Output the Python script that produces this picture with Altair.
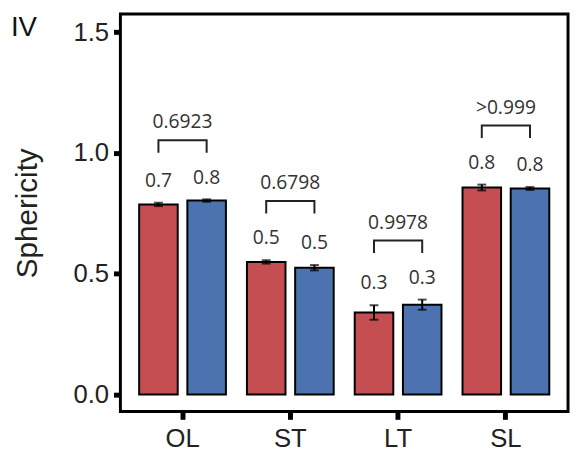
import altair as alt
import pandas as pd

categories = ["OL", "ST", "LT", "SL"]
groups = ["Group 1", "Group 2"]
mean_g1 = [0.787, 0.549, 0.340, 0.857]
mean_g2 = [0.803, 0.525, 0.372, 0.853]
err_g1 = [0.007, 0.007, 0.030, 0.012]
err_g2 = [0.005, 0.011, 0.021, 0.006]
label_g1 = ["0.7", "0.5", "0.3", "0.8"]
label_g2 = ["0.8", "0.5", "0.3", "0.8"]
p_values = ["0.6923", "0.6798", "0.9978", ">0.999"]
y_ticks = [0.0, 0.5, 1.0, 1.5]
panel_label = ["IV"]
colors = ["#C44E52", "#4C72B0"]

BRACKET_GAP = 0.245
BRACKET_LEG = 0.052

rows = []
for i, c in enumerate(categories):
    for g, m, e, l in ((groups[0], mean_g1[i], err_g1[i], label_g1[i]),
                       (groups[1], mean_g2[i], err_g2[i], label_g2[i])):
        rows.append(dict(cat=c, group=g, mean=m, lo=m - e, hi=m + e, label=l))
bars = pd.DataFrame(rows)

br_rows, pv_rows = [], []
for i, c in enumerate(categories):
    top = max(mean_g1[i] + err_g1[i], mean_g2[i] + err_g2[i]) + BRACKET_GAP
    bottom = top - BRACKET_LEG
    br_rows += [
        dict(cat=c, group=groups[0], y=bottom, order=0),
        dict(cat=c, group=groups[0], y=top, order=1),
        dict(cat=c, group=groups[1], y=top, order=2),
        dict(cat=c, group=groups[1], y=bottom, order=3),
    ]
    pv_rows.append(dict(cat=c, y=top, p=p_values[i]))
brackets = pd.DataFrame(br_rows)
pvals = pd.DataFrame(pv_rows)

x_enc = alt.X(
    "cat:N", sort=categories,
    scale=alt.Scale(paddingInner=0.195, paddingOuter=0.174),
    axis=alt.Axis(title=None, labelAngle=0, labelFont="Liberation Sans", labelFontSize=26,
                  labelColor="#222", tickColor="black", tickSize=8, tickWidth=5,
                  labelPadding=7, domain=False, grid=False),
)
xoff = alt.XOffset("group:N", sort=groups, scale=alt.Scale(paddingInner=0.2, paddingOuter=0))

y_axis = alt.Axis(title="Sphericity", values=y_ticks, format=".1f", labelFont="Liberation Sans",
                  labelFontSize=26, labelColor="#222", tickColor="black", tickSize=7,
                  tickWidth=5, labelPadding=5, titleFont="Liberation Sans", titleFontSize=30,
                  titleFontWeight="normal", titleColor="#222", titlePadding=31,
                  domain=False, grid=False)
y_scale = alt.Scale(domain=[-0.07, 1.575], nice=False, zero=False)


def yenc(field):
    return alt.Y(field, scale=y_scale, axis=y_axis)


bar = alt.Chart(bars).mark_bar(stroke="black", strokeWidth=2).encode(
    x=x_enc, xOffset=xoff, y=yenc("mean:Q"),
    color=alt.Color("group:N", scale=alt.Scale(domain=groups, range=colors), legend=None),
)
err_rule = alt.Chart(bars).mark_rule(color="black", strokeWidth=2).encode(
    x=x_enc, xOffset=xoff, y=yenc("lo:Q"), y2="hi:Q"
)
cap_lo = alt.Chart(bars).mark_tick(color="black", size=9, thickness=2).encode(
    x=x_enc, xOffset=xoff, y=yenc("lo:Q")
)
cap_hi = alt.Chart(bars).mark_tick(color="black", size=9, thickness=2).encode(
    x=x_enc, xOffset=xoff, y=yenc("hi:Q")
)
val_text = alt.Chart(bars).mark_text(font="Open Sans", fontSize=19.5, color="#333",
                                     baseline="alphabetic", dy=-16).encode(
    x=x_enc, xOffset=xoff, y=yenc("hi:Q"), text="label:N"
)
bracket = alt.Chart(brackets).mark_line(color="#222", strokeWidth=2, strokeJoin="miter").encode(
    x=x_enc, xOffset=xoff, y=yenc("y:Q"), order="order:Q", detail="cat:N"
)
p_text = alt.Chart(pvals).mark_text(font="Open Sans", fontSize=19.5, color="#333",
                                    baseline="alphabetic", dy=-12).encode(
    x=x_enc, y=yenc("y:Q"), text="p:N"
)
panel = alt.Chart(pd.DataFrame({"t": panel_label})).mark_text(
    font="Liberation Sans", fontSize=28, color="#111", align="left", baseline="alphabetic"
).encode(x=alt.value(-111), y=alt.value(22), text="t:N")

chart = alt.layer(bar, err_rule, cap_lo, cap_hi, val_text, bracket, p_text, panel).properties(
    width=454, height=403,
    autosize=alt.AutoSizeParams(type="none"),
    padding={"left": 114, "top": 3, "right": 2, "bottom": 40},
).configure_view(stroke="black", strokeWidth=3)

chart.save("out.html", embed_options={"renderer": "svg", "actions": False})
